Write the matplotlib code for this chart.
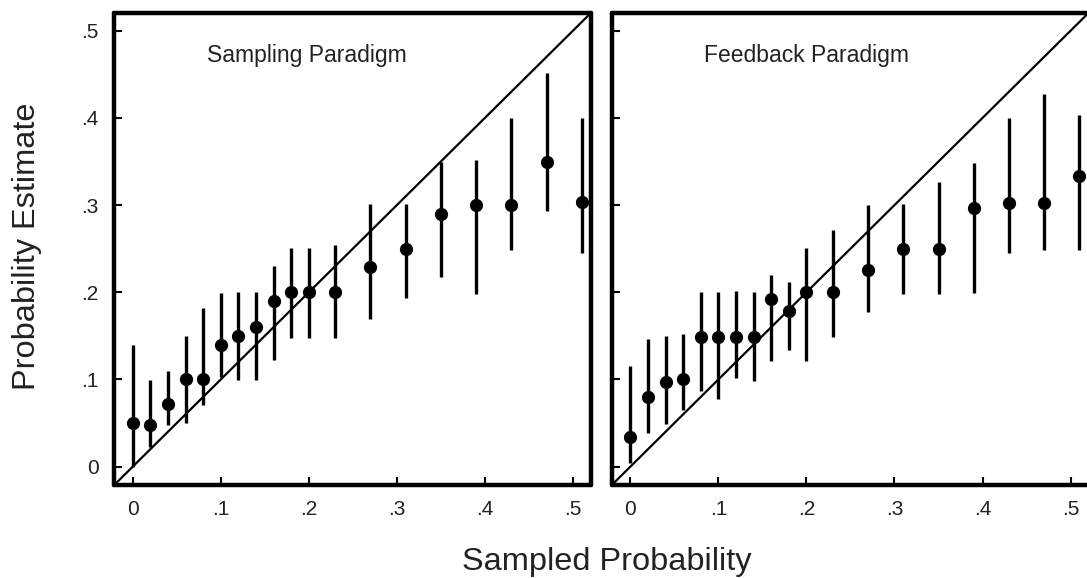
import matplotlib
matplotlib.use("Agg")
import matplotlib.pyplot as plt
from matplotlib.ticker import FuncFormatter

plt.rcParams["font.family"] = ["Liberation Sans", "DejaVu Sans"]

sampled = [0, .02, .04, .06, .08, .10, .12, .14, .16, .18, .20, .23, .27, .31, .35, .39, .43, .47, .51]

sampling_est = [.050, .048, .072, .100, .100, .140, .150, .160, .190, .200, .200, .200, .229, .250, .290, .300, .300, .350, .303]
sampling_lo = [.000, .023, .048, .050, .071, .103, .099, .099, .122, .148, .148, .148, .169, .194, .217, .198, .249, .293, .245]
sampling_hi = [.140, .099, .110, .150, .182, .199, .200, .200, .230, .251, .251, .254, .301, .301, .349, .352, .400, .451, .400]

feedback_est = [.034, .080, .097, .100, .149, .149, .149, .149, .192, .179, .200, .200, .226, .250, .250, .297, .302, .302, .333]
feedback_lo = [.004, .039, .049, .065, .087, .078, .102, .098, .121, .134, .121, .149, .177, .198, .198, .199, .245, .249, .249]
feedback_hi = [.116, .146, .150, .152, .200, .200, .201, .200, .220, .212, .251, .271, .300, .301, .327, .348, .400, .427, .403]

ticks = [0, .1, .2, .3, .4, .5]
lim = (-0.0212, 0.5205)


def fmt(v, pos):
    return "0" if abs(v) < 1e-9 else ("%.1f" % v).lstrip("0")


fig = plt.figure(figsize=(10.87, 5.78), dpi=100)

panels = [
    (0.1049, "Sampling Paradigm", sampling_est, sampling_lo, sampling_hi, True),
    (0.5627, "Feedback Paradigm", feedback_est, feedback_lo, feedback_hi, False),
]

for left, title, est, lo, hi, show_y in panels:
    ax = fig.add_axes([left, 0.1609, 0.4388, 0.8166])
    ax.plot([-0.05, 0.55], [-0.05, 0.55], color="black", lw=1.6, zorder=1)
    ax.vlines(sampled, lo, hi, color="black", lw=2.4, zorder=2)
    ax.plot(sampled, est, "o", color="black", ms=8.5, zorder=3)
    ax.set_xlim(*lim)
    ax.set_ylim(-0.021, 0.5203)
    ax.set_xticks(ticks)
    ax.set_yticks(ticks)
    ax.xaxis.set_major_formatter(FuncFormatter(fmt))
    ax.yaxis.set_major_formatter(FuncFormatter(fmt))
    ax.tick_params(direction="in", length=6, width=1.5, labelsize=15,
                   labelcolor="#222222")
    ax.tick_params(axis="x", pad=11)
    ax.tick_params(axis="y", pad=11)
    if not show_y:
        ax.tick_params(axis="y", labelleft=False)
    for sp in ax.spines.values():
        sp.set_linewidth(3.2)
        sp.set_capstyle("round")
        sp.set_joinstyle("round")
    ax.text(0.084, 0.472, title, fontsize=16.5, va="center", ha="left",
            color="#222222")

fig.text(607 / 1087, 1 - 562 / 578, "Sampled Probability", fontsize=23.4,
         ha="center", va="center", color="#222222")
fig.text(27 / 1087, 1 - 246 / 578, "Probability Estimate", fontsize=23.4,
         ha="center", va="center", rotation=90, color="#222222")

fig.savefig("out.png", dpi=100)
